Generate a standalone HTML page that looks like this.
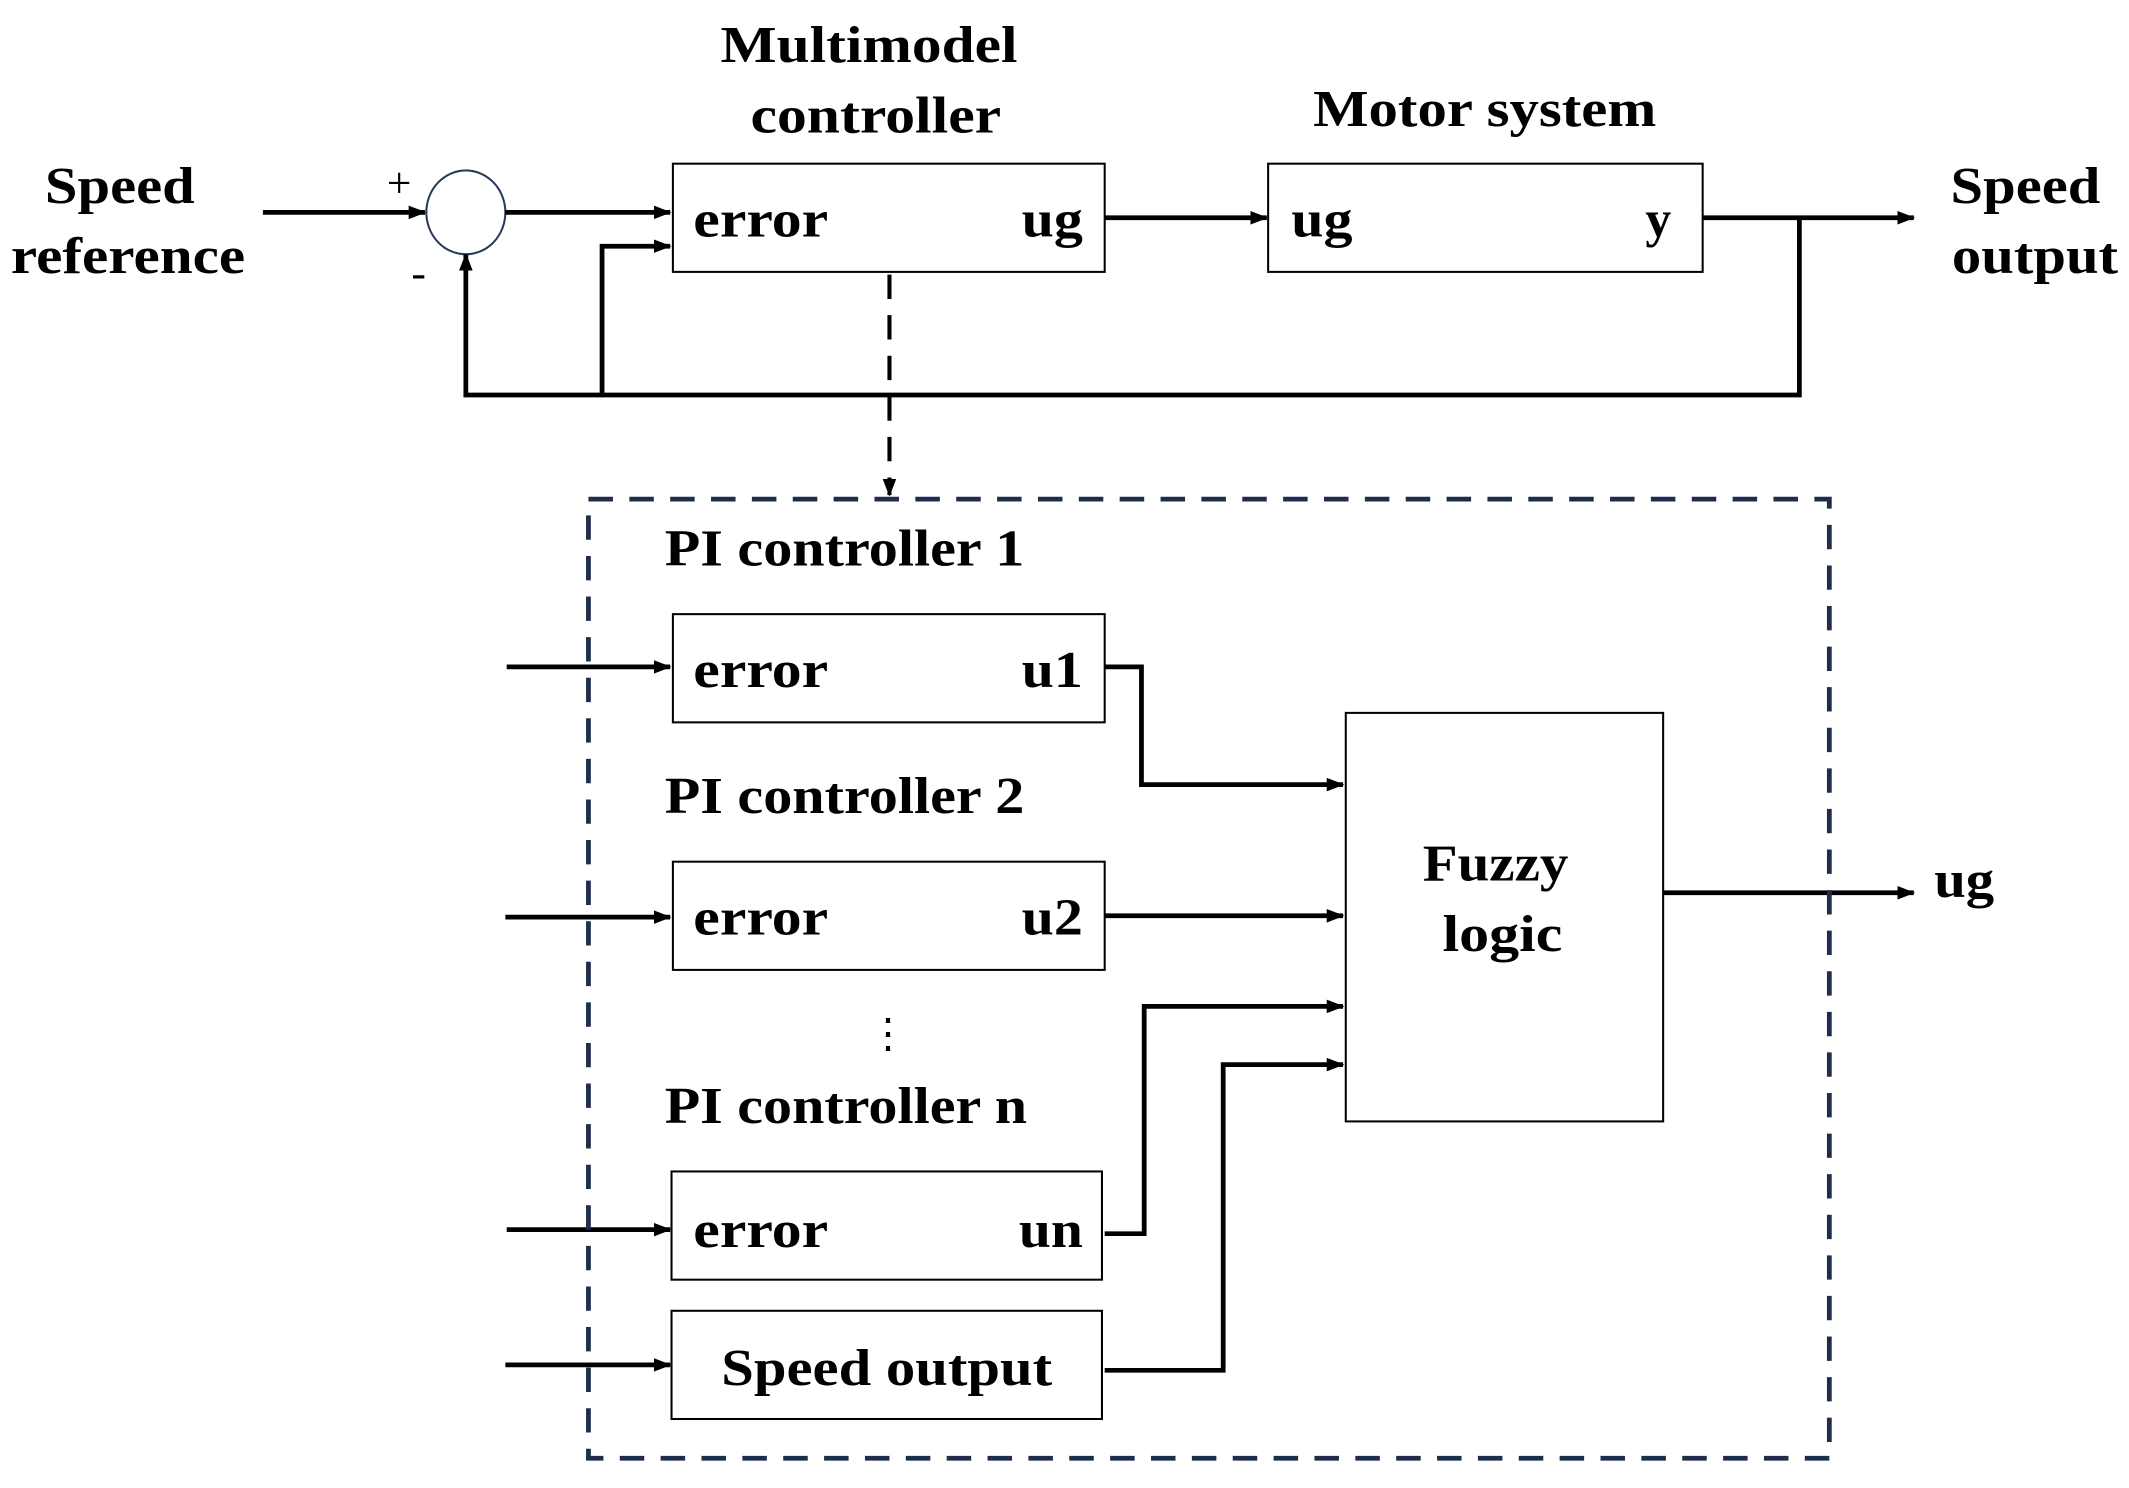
<!DOCTYPE html>
<html><head><meta charset="utf-8"><style>
html,body{margin:0;padding:0;background:#fff;}
svg{display:block;}
text{font-family:"Liberation Serif",serif;font-weight:bold;fill:#000;}
</style></head><body>
<svg width="2129" height="1488" viewBox="0 0 1563 1100" preserveAspectRatio="none" xmlns="http://www.w3.org/2000/svg">
<defs>
<marker id="a" markerWidth="13" markerHeight="10" refX="12" refY="5" orient="auto" markerUnits="userSpaceOnUse">
<path d="M0,0 L13,5 L0,10 z" fill="#000"/></marker>
</defs>
<g fill="#fff" stroke="#000" stroke-width="1.5">
<rect x="494" y="121" width="317" height="80"/>
<rect x="931" y="121" width="319" height="80"/>
<rect x="494" y="454" width="317" height="80"/>
<rect x="494" y="637" width="317" height="80"/>
<rect x="493" y="866" width="316" height="80"/>
<rect x="493" y="969" width="316" height="80"/>
<rect x="988" y="527" width="233" height="302"/>
</g>
<ellipse cx="342" cy="157" rx="29" ry="31" fill="none" stroke="#2a3a5a" stroke-width="1.5"/>
<g font-size="38">
<text x="88" y="150" text-anchor="middle" textLength="110" lengthAdjust="spacingAndGlyphs">Speed</text>
<text x="94" y="202" text-anchor="middle" textLength="172" lengthAdjust="spacingAndGlyphs">reference</text>
<text x="638" y="46" text-anchor="middle" textLength="218" lengthAdjust="spacingAndGlyphs">Multimodel</text>
<text x="643" y="98" text-anchor="middle" textLength="184" lengthAdjust="spacingAndGlyphs">controller</text>
<text x="1090" y="93" text-anchor="middle" textLength="252" lengthAdjust="spacingAndGlyphs">Motor system</text>
<text x="1487" y="150" text-anchor="middle" textLength="110" lengthAdjust="spacingAndGlyphs">Speed</text>
<text x="1494" y="202" text-anchor="middle" textLength="122" lengthAdjust="spacingAndGlyphs">output</text>
<text x="509" y="175" textLength="99" lengthAdjust="spacingAndGlyphs">error</text>
<text x="750" y="175" textLength="45" lengthAdjust="spacingAndGlyphs">ug</text>
<text x="948" y="175" textLength="45" lengthAdjust="spacingAndGlyphs">ug</text>
<text x="1208" y="175">y</text>
<text x="488" y="418" textLength="264" lengthAdjust="spacingAndGlyphs">PI controller 1</text>
<text x="488" y="601" textLength="264" lengthAdjust="spacingAndGlyphs">PI controller 2</text>
<text x="488" y="830" textLength="266" lengthAdjust="spacingAndGlyphs">PI controller n</text>
<text x="509" y="508" textLength="99" lengthAdjust="spacingAndGlyphs">error</text>
<text x="750" y="508" textLength="45" lengthAdjust="spacingAndGlyphs">u1</text>
<text x="509" y="691" textLength="99" lengthAdjust="spacingAndGlyphs">error</text>
<text x="750" y="691" textLength="45" lengthAdjust="spacingAndGlyphs">u2</text>
<text x="509" y="922" textLength="99" lengthAdjust="spacingAndGlyphs">error</text>
<text x="748" y="922" textLength="47" lengthAdjust="spacingAndGlyphs">un</text>
<text x="651" y="1024" text-anchor="middle" textLength="243" lengthAdjust="spacingAndGlyphs">Speed output</text>
<text x="1098" y="651" text-anchor="middle" textLength="107" lengthAdjust="spacingAndGlyphs">Fuzzy</text>
<text x="1103" y="703" text-anchor="middle" textLength="88" lengthAdjust="spacingAndGlyphs">logic</text>
<text x="1420" y="663" textLength="44" lengthAdjust="spacingAndGlyphs">ug</text>
</g>
<text x="284" y="146" font-size="32" style="font-weight:normal">+</text>
<text x="302" y="212" font-size="32" style="font-weight:normal">-</text>
<text x="652" y="774" font-size="30" text-anchor="middle" style="font-weight:normal">⋮</text>

<g fill="none" stroke="#000" stroke-width="3.5" marker-end="url(#a)">
<path d="M193,157 H312"/>
<path d="M371,157 H492"/>
<path d="M442,292 V182 H492"/>
<path d="M811,161 H930"/>
<path d="M1250,161 H1405"/>
<path d="M372,493 H492"/>
<path d="M371,678 H492"/>
<path d="M372,909 H492"/>
<path d="M371,1009 H492"/>
<path d="M811,493 H838 V580 H986"/>
<path d="M811,677 H986"/>
<path d="M811,912 H840 V744 H986"/>
<path d="M811,1013 H898 V787 H986"/>
<path d="M1221,660 H1405"/>
</g>
<path d="M1321,161 V292 H342 V188" fill="none" stroke="#000" stroke-width="3.5" marker-end="url(#a)"/>
<path d="M653,203 V366" fill="none" stroke="#000" stroke-width="3" stroke-dasharray="18,12" marker-end="url(#a)"/>
<rect x="432" y="369" width="911" height="709" fill="none" stroke="#1f2d4d" stroke-width="3.5" stroke-dasharray="18,12"/>
</svg>
</body></html>
